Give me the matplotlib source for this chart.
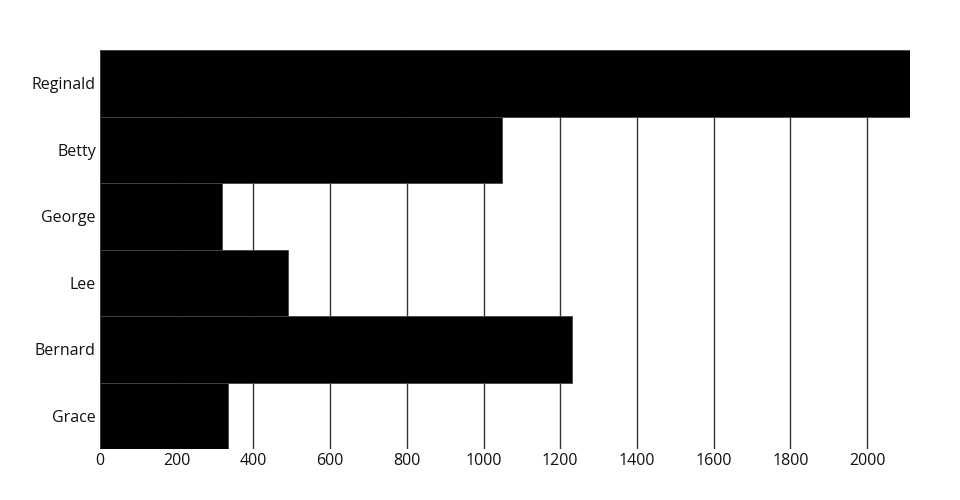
import matplotlib.pyplot as plt

names = ["Reginald", "Betty", "George", "Lee", "Bernard", "Grace"]
values = [2112, 1048, 318, 490, 1231, 334]
x_ticks = [0, 200, 400, 600, 800, 1000, 1200, 1400, 1600, 1800, 2000]

plt.rcParams["font.family"] = ["Open Sans", "DejaVu Sans"]

fig = plt.figure(figsize=(9.6, 5), dpi=100)
ax = fig.add_axes([100 / 960, 51 / 500, 810 / 960, 399 / 500])

positions = list(range(len(names)))[::-1]
ax.barh(positions, values, height=1.0, color="black", edgecolor="#444444", linewidth=0.6, zorder=2)

ax.set_xlim(0, max(values))
ax.set_ylim(-0.5, len(names) - 0.5)
ax.set_yticks(positions)
ax.set_yticklabels(names)
ax.set_xticks(x_ticks)
ax.set_xticklabels([str(t) for t in x_ticks])
ax.tick_params(axis="y", length=0, labelsize=11.5, colors="#111111", pad=3)
ax.tick_params(axis="x", length=0, labelsize=11.5, colors="#111111", pad=3)
ax.xaxis.grid(True, color="#333333", linewidth=1, zorder=0)
ax.set_axisbelow(True)
for spine in ax.spines.values():
    spine.set_visible(False)

fig.savefig("out.png", dpi=100)
